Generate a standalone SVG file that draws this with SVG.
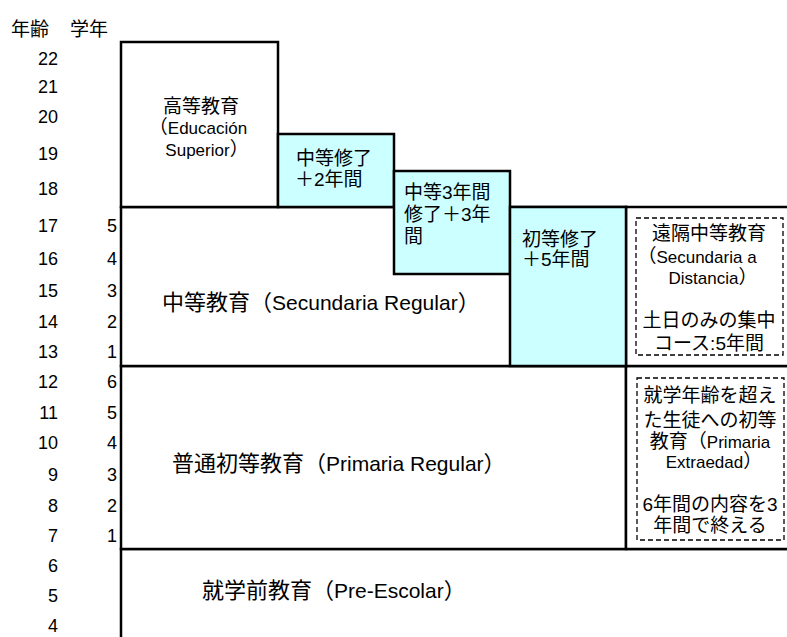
<svg xmlns="http://www.w3.org/2000/svg" width="787" height="637" viewBox="0 0 787 637">
<style>
text{font-family:"Liberation Sans","Noto Sans CJK JP",sans-serif;fill:#000}
.ax{font-size:18px;text-anchor:end}
.s{font-size:19px}
.l{font-size:17px}
.m{font-size:22px}
.ml{font-size:21px}
.c{text-anchor:middle}
.box{fill:#fff;stroke:#000;stroke-width:2.5}
.cy{fill:#ccffff;stroke:#000;stroke-width:2.5}
.dash{fill:none;stroke:#000;stroke-width:1.3;stroke-dasharray:5 3}
</style>
<rect x="0" y="0" width="787" height="637" fill="#fff"/>

<g id="axis">
  <text class="s" x="11" y="36">年齢<tspan x="70">学年</tspan></text>
  <text class="ax" x="58" y="65">22</text>
  <text class="ax" x="58" y="93">21</text>
  <text class="ax" x="58" y="123">20</text>
  <text class="ax" x="58" y="160">19</text>
  <text class="ax" x="58" y="195">18</text>
  <text class="ax" x="58" y="232">17</text>
  <text class="ax" x="58" y="265">16</text>
  <text class="ax" x="58" y="297">15</text>
  <text class="ax" x="58" y="328">14</text>
  <text class="ax" x="58" y="358">13</text>
  <text class="ax" x="58" y="388">12</text>
  <text class="ax" x="58" y="419">11</text>
  <text class="ax" x="58" y="449">10</text>
  <text class="ax" x="58" y="481">9</text>
  <text class="ax" x="58" y="512">8</text>
  <text class="ax" x="58" y="542">7</text>
  <text class="ax" x="58" y="572">6</text>
  <text class="ax" x="58" y="602">5</text>
  <text class="ax" x="58" y="632">4</text>
  <text class="ax" x="117" y="232">5</text>
  <text class="ax" x="117" y="265">4</text>
  <text class="ax" x="117" y="297">3</text>
  <text class="ax" x="117" y="328">2</text>
  <text class="ax" x="117" y="358">1</text>
  <text class="ax" x="117" y="388">6</text>
  <text class="ax" x="117" y="419">5</text>
  <text class="ax" x="117" y="449">4</text>
  <text class="ax" x="117" y="481">3</text>
  <text class="ax" x="117" y="512">2</text>
  <text class="ax" x="117" y="542">1</text>
</g>

<g id="preschool">
  <rect class="box" x="121" y="549" width="670" height="95"/>
  <text class="m" x="202" y="598">就学前教育（<tspan class="ml">Pre-Escolar</tspan>）</text>
</g>

<g id="primary">
  <rect class="box" x="121" y="366" width="505" height="183"/>
  <text class="m" x="172" y="471">普通初等教育（<tspan class="ml">Primaria Regular</tspan>）</text>
</g>

<g id="primary-extraedad">
  <rect class="box" x="626" y="366" width="165" height="183"/>
  <rect class="dash" x="637" y="378" width="147" height="162"/>
  <text class="s c" x="710" y="402">就学年齢を超え</text>
  <text class="s c" x="710" y="427">た生徒への初等</text>
  <text class="s c" x="710" y="448">教育（<tspan class="l">Primaria</tspan></text>
  <text class="l c" x="714" y="468">Extraedad<tspan class="s">）</tspan></text>
  <text class="s c" x="710" y="511">6年間の内容を3</text>
  <text class="s c" x="710" y="532">年間で終える</text>
</g>

<g id="secondary">
  <rect class="box" x="121" y="207" width="505" height="159"/>
  <text class="m" x="162" y="310">中等教育（<tspan class="ml">Secundaria Regular</tspan>）</text>
</g>

<g id="secondary-distancia">
  <rect class="box" x="626" y="207" width="165" height="159"/>
  <rect class="dash" x="636" y="218" width="147" height="137"/>
  <text class="s c" x="709" y="240">遠隔中等教育</text>
  <text class="l c" x="697" y="263"><tspan class="s">（</tspan>Secundaria a</text>
  <text class="l c" x="713" y="284">Distancia<tspan class="s">）</tspan></text>
  <text class="s c" x="709" y="327">土日のみの集中</text>
  <text class="s c" x="709" y="350">コース:5年間</text>
</g>

<g id="higher-ed">
  <rect class="box" x="121" y="42" width="157" height="165"/>
  <text class="s c" x="201" y="113">高等教育</text>
  <text class="l c" x="198" y="134"><tspan class="s">（</tspan>Educación</text>
  <text class="l c" x="207" y="156">Superior<tspan class="s">）</tspan></text>
</g>

<g id="sec-plus2">
  <rect class="cy" x="278" y="134" width="116" height="73"/>
  <text class="s" x="296" y="165">中等修了</text>
  <text class="s" x="295" y="186">＋2年間</text>
</g>

<g id="sec3-plus3">
  <rect class="cy" x="394" y="171" width="116" height="103"/>
  <text class="s" x="404" y="199">中等3年間</text>
  <text class="s" x="404" y="221">修了＋3年</text>
  <text class="s" x="404" y="243">間</text>
</g>

<g id="prim-plus5">
  <rect class="cy" x="510" y="207" width="116" height="159"/>
  <text class="s" x="522" y="246">初等修了</text>
  <text class="s" x="522" y="266">＋5年間</text>
</g>
</svg>
